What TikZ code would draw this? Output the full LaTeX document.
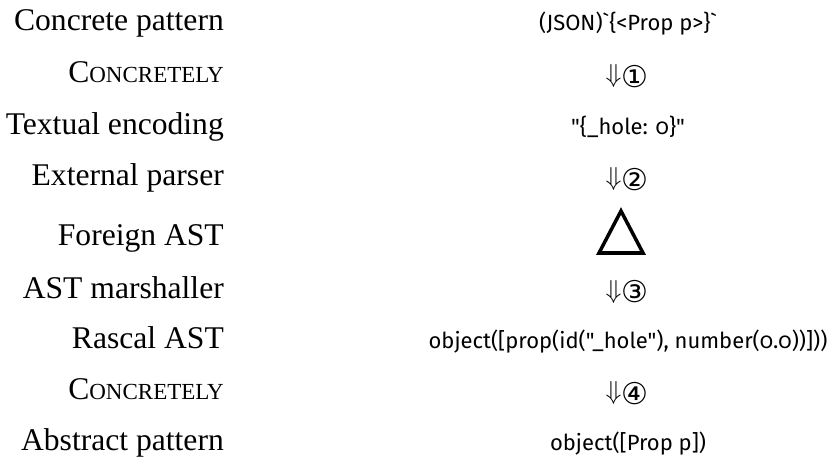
\documentclass[tikz,border=0pt]{standalone}
\usepackage{fontspec}
\usepackage{graphicx}
\setmainfont{Liberation Serif}
\newfontfamily\codefont[Numbers=OldStyle]{Fira Sans}
\newfontfamily\symfont{DejaVu Sans}
\newcommand{\fakesc}[2]{#1{\fontsize{23}{26}\selectfont #2}}
\newcommand{\stepmark}[1]{\scalebox{2.6}{\normalsize$\Downarrow$}\raisebox{-5pt}{\symfont\fontsize{30}{32}\selectfont #1}}
\begin{document}
\begin{tikzpicture}[x=1pt,y=-1pt,
  lab/.style={anchor=base east, inner sep=0pt, font=\fontsize{31.6}{36}\selectfont},
  code/.style={anchor=base, inner sep=0pt, font=\codefont\fontsize{22}{26}\selectfont},
  tri/.style={line width=3.5pt, line join=miter}]
\useasboundingbox (0,0) rectangle (830,457);
% left column
\node[lab] (l1) at (224,31) {Concrete pattern};
\node[lab] (l2) at (224,83) {\fakesc{C}{ONCRETELY}};
\node[lab] (l3) at (224,135) {Textual encoding};
\node[lab] (l4) at (224,186) {External parser};
\node[lab] (l5) at (224,245) {Foreign AST};
\node[lab] (l6) at (224,298) {AST marshaller};
\node[lab] (l7) at (224,348) {Rascal AST};
\node[lab] (l8) at (224,399) {\fakesc{C}{ONCRETELY}};
\node[lab] (l9) at (224,450) {Abstract pattern};
% right column
\node[code] (r1) at (628,31) {(JSON)\char"60\{<Prop p>\}\char"60};
\node[code] (r2) at (627,83) {\stepmark{①}};
\node[code] (r3) at (628,135) {"\{\_hole: 0\}"};
\node[code] (r4) at (627,186) {\stepmark{②}};
\coordinate (ta) at (621,211);
\coordinate (tl) at (599,253);
\coordinate (tr) at (643,253);
\draw[tri] (ta) -- (tl) -- (tr) -- cycle;
\node[code] (r6) at (627,298) {\stepmark{③}};
\node[code] (r7) at (628,348) {object([prop(id("\_hole"), number(0.0))]))};
\node[code] (r8) at (627,399) {\stepmark{④}};
\node[code] (r9) at (628,450) {object([Prop p])};
\end{tikzpicture}
\end{document}
